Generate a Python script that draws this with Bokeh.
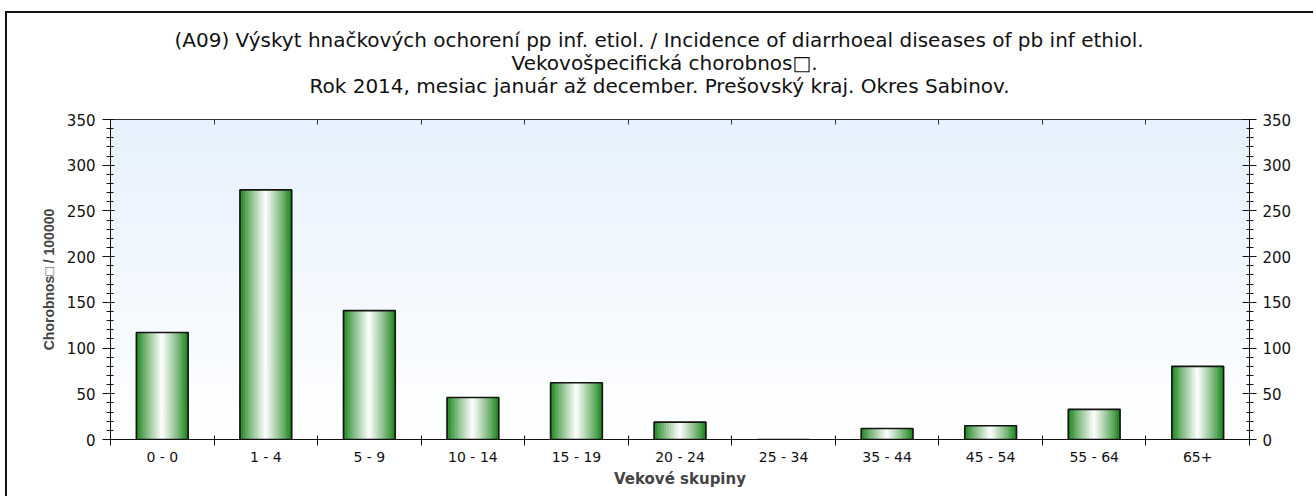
import numpy as np
from bokeh.plotting import figure
from bokeh.models import (Range1d, LinearAxis, FixedTicker, Label, Title, ColumnDataSource)
from bokeh.embed import file_html
from bokeh.resources import INLINE

# ---------------- data ----------------
categories = ["0 - 0", "1 - 4", "5 - 9", "10 - 14", "15 - 19", "20 - 24",
              "25 - 34", "35 - 44", "45 - 54", "55 - 64", "65+"]
values = [117, 273, 141, 46, 62, 19, 0, 12, 15, 33, 80]
y_ticks = [0, 50, 100, 150, 200, 250, 300, 350]

title_lines = [
    "(A09) Výskyt hnačkových ochorení pp inf. etiol. / Incidence of diarrhoeal diseases of pb inf ethiol.",
    "Vekovošpecifická  chorobnos\u25a1.",
    "Rok 2014, mesiac január až december. Prešovský kraj. Okres Sabinov.",
]
y_label = "Chorobnos\u25a1 / 100000"
x_label = "Vekové skupiny"
source_text = "Zdroj údajov: EPIS, © ÚVZ SR"

# ---------------- figure ----------------
W, H = 1308, 485
BL, BR, BT, BB = 103, 66, 106, 59
ymax = y_ticks[-1]
ncat = len(categories)
centers = [i + 0.5 for i in range(ncat)]

p = figure(width=W, height=H,
           x_range=Range1d(0, ncat), y_range=Range1d(0, ymax),
           output_backend="svg", toolbar_location=None,
           x_axis_location=None, y_axis_location=None,
           min_border_left=BL, min_border_right=BR,
           min_border_top=BT, min_border_bottom=BB)
p.outline_line_color = None
p.grid.visible = False
p.background_fill_color = "white"
p.border_fill_color = "white"
p.styles = {"margin-left": "5px", "margin-top": "11px",
            "border-top": "2px solid #111", "border-left": "2px solid #111"}

# background gradient of plot area (light blue at top -> white at bottom)
NG = 80
img = np.empty((NG, 1), dtype=np.uint32)
view = img.view(dtype=np.uint8).reshape((NG, 1, 4))
top_c = (230, 241, 253)
for r in range(NG):
    t = r / (NG - 1)
    for ch in range(3):
        view[r, 0, ch] = int(round(255 - (255 - top_c[ch]) * t))
    view[r, 0, 3] = 255
p.image_rgba(image=[img], x=0, y=0, dw=ncat, dh=ymax, level="image")

# cylinder-like bars built from thin strips
NS = 30
bw = 0.5
dark = (14, 124, 14)
sx, stop, scol = [], [], []
for c0, v in zip(centers, values):
    for k in range(NS):
        t = (k + 0.5) / NS
        w = max(0.0, 1 - abs(2 * t - 1)) ** 0.85
        c = tuple(int(d + (255 - d) * w) for d in dark)
        sx.append(c0 - bw / 2 + t * bw)
        stop.append(v)
        scol.append("#%02x%02x%02x" % c)
strip_src = ColumnDataSource(dict(x=sx, top=stop, color=scol))
p.vbar(x="x", top="top", bottom=0, width=bw / NS, source=strip_src,
       fill_color="color", line_color="color", line_width=0.6)

# bar outlines
bar_src = ColumnDataSource(dict(x=centers, top=values, cat=categories))
p.vbar(x="x", top="top", bottom=0, width=bw, source=bar_src,
       fill_color=None, line_color="#151515", line_width=1.6)

# ---------------- axes ----------------
minor = list(range(0, ymax + 1, 10))
FONT = "DejaVu Sans"

left = LinearAxis(ticker=FixedTicker(ticks=y_ticks, minor_ticks=minor),
                  axis_label=y_label)
left.major_tick_in = 4
left.major_tick_out = 8
left.minor_tick_in = 3
left.minor_tick_out = 4
left.major_label_standoff = 7
left.major_label_text_font = FONT
left.major_label_text_font_size = "15px"
left.major_label_text_color = "#111"
left.axis_label_text_font = "Liberation Sans"
left.axis_label_text_font_style = "bold"
left.axis_label_text_font_size = "14px"
left.axis_label_standoff = 7
left.axis_line_color = "#111"
left.major_tick_line_color = "#111"
left.minor_tick_line_color = "#111"
p.add_layout(left, "left")

right = LinearAxis(ticker=FixedTicker(ticks=y_ticks, minor_ticks=minor))
right.major_tick_in = 7
right.major_tick_out = 7
right.minor_tick_in = 3
right.minor_tick_out = 4
right.major_label_standoff = 6
right.major_label_text_font = FONT
right.major_label_text_font_size = "15px"
right.major_label_text_color = "#111"
right.axis_line_color = "#111"
right.major_tick_line_color = "#111"
right.minor_tick_line_color = "#111"
p.add_layout(right, "right")

bounds = list(range(ncat + 1))
top_ax = LinearAxis(ticker=FixedTicker(ticks=bounds, minor_ticks=[]))
top_ax.major_tick_in = 5
top_ax.major_tick_out = 0
top_ax.major_label_text_font_size = "0px"
top_ax.major_label_standoff = 0
top_ax.axis_line_color = "#333"
top_ax.major_tick_line_color = "#333"
p.add_layout(top_ax, "above")

bot_ticks = LinearAxis(ticker=FixedTicker(ticks=bounds, minor_ticks=[]))
bot_ticks.major_tick_in = 4
bot_ticks.major_tick_out = 6
bot_ticks.major_label_text_font_size = "0px"
bot_ticks.major_label_standoff = 0
bot_ticks.axis_line_color = "#111"
bot_ticks.major_tick_line_color = "#111"
p.add_layout(bot_ticks, "below")

cat_ax = LinearAxis(ticker=FixedTicker(ticks=centers, minor_ticks=[]),
                    axis_label=x_label)
cat_ax.major_label_overrides = {c0: name for c0, name in zip(centers, categories)}
cat_ax.axis_line_color = None
cat_ax.major_tick_line_color = None
cat_ax.major_tick_in = 0
cat_ax.major_tick_out = 0
cat_ax.major_label_standoff = 3
cat_ax.major_label_text_font = FONT
cat_ax.major_label_text_font_size = "14px"
cat_ax.major_label_text_color = "#111"
cat_ax.axis_label_text_font = FONT
cat_ax.axis_label_text_font_style = "bold"
cat_ax.axis_label_text_font_size = "15px"
cat_ax.axis_label_standoff = 2
p.add_layout(cat_ax, "below")

# ---------------- titles (stacked above the frame, nearest first) ----------------
# blank spacer between the frame and the title block
p.add_layout(Title(text=" ", text_font=FONT, text_font_size="16px", standoff=2), "above")

title_offsets = [64, 401, 199]      # left offsets from frame edge (pixel layout)
title_standoffs = [-3, -3, -3]
for line, off, so in reversed(list(zip(title_lines, title_offsets, title_standoffs))):
    p.add_layout(Title(text=line, align="left", offset=off, standoff=so,
                       text_font=FONT, text_font_size="20px",
                       text_font_style="normal", text_color="#111"), "above")

p.add_layout(Label(x=560, y=-53, x_units="screen", y_units="screen",
                   text=source_text, text_align="center", text_baseline="middle",
                   text_font=FONT, text_font_size="13px", text_font_style="bold",
                   text_color="#c4c4c4"))

open("out.html", "w").write(file_html(p, INLINE))
